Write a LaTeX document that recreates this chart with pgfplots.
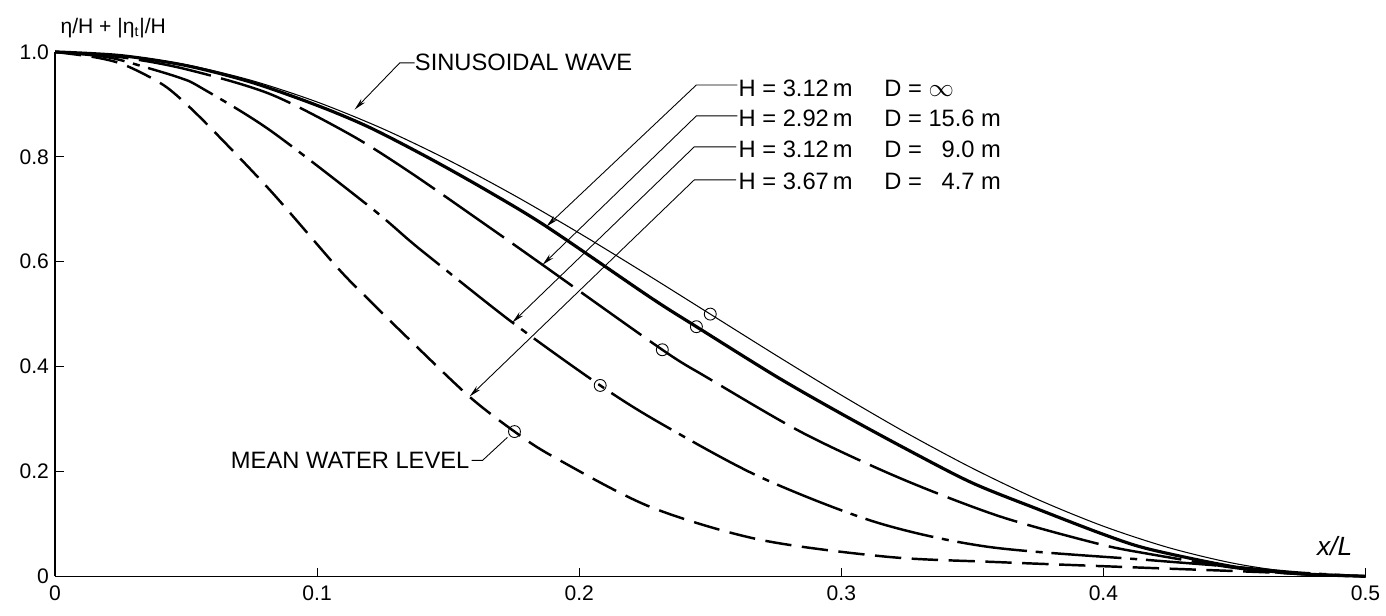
\documentclass[border=0pt]{standalone}
\usepackage{fontspec}
\setmainfont{Liberation Sans}
\usepackage{pgfplots}
\pgfplotsset{compat=1.18}
\usetikzlibrary{arrows.meta}

\begin{document}
\begin{tikzpicture}[
  ann/.style={font=\fontsize{13.5}{16}\selectfont, inner sep=0pt},
  lead/.style={line width=0.5pt},
  arr/.style={line width=0.5pt, -{Stealth[length=7pt,width=3pt]}},
]
\begin{axis}[
  scale only axis,
  width=26.24cm, height=10.5cm,
  xmin=0, xmax=0.5, ymin=0, ymax=1,
  axis x line=bottom, axis y line=left,
  axis line style={-, line width=0.9pt},
  xtick={0,0.1,0.2,0.3,0.4,0.5},
  xticklabels={0,0.1,0.2,0.3,0.4,0.5},
  ytick={0,0.2,0.4,0.6,0.8,1.0},
  yticklabels={0,0.2,0.4,0.6,0.8,1.0},
  tick align=inside,
  major tick length=5pt,
  tick style={line width=0.6pt, black},
  ticklabel style={font=\fontsize{12}{14}\selectfont},
  xticklabel style={yshift=-2pt},
  clip=false,
]

% sinusoidal wave (thin)
\addplot[line width=0.6pt, smooth] coordinates {
 (0,1.0) (0.025,0.9938) (0.05,0.9755) (0.075,0.9455) (0.1,0.9045)
 (0.125,0.8536) (0.15,0.7939) (0.175,0.7270) (0.2,0.6545) (0.225,0.5782)
 (0.25,0.5) (0.275,0.4218) (0.3,0.3455) (0.325,0.2730) (0.35,0.2061)
 (0.375,0.1464) (0.4,0.0955) (0.425,0.0545) (0.45,0.0245) (0.475,0.0062) (0.5,0)
};

% H = 3.12 m, D = inf (thick solid)
\addplot[line width=1.8pt, smooth] coordinates {
 (0,1.0) (0.025,0.993) (0.05,0.974) (0.075,0.942) (0.1,0.898) (0.12,0.856)
 (0.1429,0.797) (0.165,0.735) (0.1875,0.667) (0.2268,0.533)
 (0.2447,0.476) (0.2752,0.381) (0.3,0.31) (0.3258,0.240) (0.35,0.178)
 (0.375,0.128) (0.4,0.080) (0.4173,0.052) (0.45,0.018) (0.475,0.005) (0.5,0)
};

% H = 2.92 m, D = 15.6 m (long dashes)
\addplot[line width=1.4pt, smooth, dash pattern=on 42pt off 6pt] coordinates {
 (0,1.0) (0.025,0.99) (0.05,0.967) (0.0819,0.920) (0.1124,0.843)
 (0.1353,0.771) (0.165,0.668) (0.186,0.594) (0.2317,0.432)
 (0.2485,0.380) (0.2851,0.274) (0.322,0.188) (0.36,0.115) (0.398,0.062)
 (0.417,0.043) (0.45,0.016) (0.475,0.004) (0.5,0)
};

% H = 3.12 m, D = 9.0 m (dash-dot)
\addplot[line width=1.4pt, smooth, dash pattern=on 40pt off 5pt on 4pt off 5pt] coordinates {
 (0,1.0) (0.02,0.99) (0.035,0.97) (0.048,0.95) (0.0553,0.933) (0.0819,0.851)
 (0.120,0.705) (0.1353,0.640) (0.1429,0.609) (0.1745,0.484) (0.208,0.364)
 (0.2306,0.293) (0.2687,0.190) (0.3133,0.103) (0.3563,0.056) (0.4173,0.031)
 (0.45,0.018) (0.475,0.007) (0.5,0)
};

% H = 3.67 m, D = 4.7 m (dashed)
\addplot[line width=1.4pt, smooth, dash pattern=on 15pt off 6pt] coordinates {
 (0,1.0) (0.015,0.99) (0.025,0.978) (0.035,0.955) (0.0438,0.928) (0.0564,0.870)
 (0.0819,0.737) (0.1075,0.590) (0.119,0.531) (0.1353,0.451) (0.158,0.343)
 (0.1753,0.276) (0.1898,0.229) (0.2268,0.133) (0.2687,0.070) (0.318,0.037)
 (0.36,0.027) (0.4173,0.016) (0.45,0.010) (0.5,0)
};

% mean water level marks
\addplot[only marks, mark=o, mark size=3.4pt, mark options={line width=0.5pt}] coordinates {
 (0.25,0.5) (0.2447,0.476) (0.2317,0.432) (0.208,0.364) (0.1753,0.276)
};

% axis labels
\node[font=\fontsize{12}{14}\selectfont, anchor=west, inner sep=0pt] at (axis cs:0.002,1.046) {η/H + |η\textsubscript{t}|/H};
\node[font=\fontsize{15}{17}\selectfont\itshape, inner sep=0pt] at (axis cs:0.4882,0.057) {x/L};

% sinusoidal wave
\node[ann, anchor=west] at (axis cs:0.1372,0.981) {SINUSOIDAL WAVE};
\draw[arr] (axis cs:0.1372,0.979) -- (axis cs:0.1315,0.979) -- (axis cs:0.1143,0.890);

% legend leaders
\draw[arr] (axis cs:0.2603,0.937) -- (axis cs:0.2447,0.937) -- (axis cs:0.1875,0.667);
\draw[arr] (axis cs:0.2603,0.878) -- (axis cs:0.2447,0.878) -- (axis cs:0.186,0.594);
\draw[arr] (axis cs:0.2599,0.819) -- (axis cs:0.2439,0.819) -- (axis cs:0.1745,0.484);
\draw[arr] (axis cs:0.2599,0.756) -- (axis cs:0.2439,0.756) -- (axis cs:0.1582,0.343);

\node[ann, anchor=west] at (axis cs:0.2607,0.931) {H = 3.12\,m};
\node[ann, anchor=west] at (axis cs:0.2607,0.874) {H = 2.92\,m};
\node[ann, anchor=west] at (axis cs:0.2607,0.815) {H = 3.12\,m};
\node[ann, anchor=west] at (axis cs:0.2607,0.754) {H = 3.67\,m};
\node[ann, anchor=west] at (axis cs:0.3163,0.931) {D = $\infty$};
\node[ann, anchor=west] at (axis cs:0.3163,0.874) {D = 15.6 m};
\node[ann, anchor=west] at (axis cs:0.3163,0.815) {D = \phantom{1}9.0 m};
\node[ann, anchor=west] at (axis cs:0.3163,0.754) {D = \phantom{1}4.7 m};

% mean water level
\node[ann, anchor=east] at (axis cs:0.1582,0.221) {MEAN WATER LEVEL};
\draw[lead] (axis cs:0.1589,0.221) -- (axis cs:0.1631,0.221) -- (axis cs:0.1726,0.265);

% page extent
\path (axis cs:-0.021,1.099) rectangle (axis cs:0.5072,-0.0743);
\end{axis}
\end{tikzpicture}
\end{document}
